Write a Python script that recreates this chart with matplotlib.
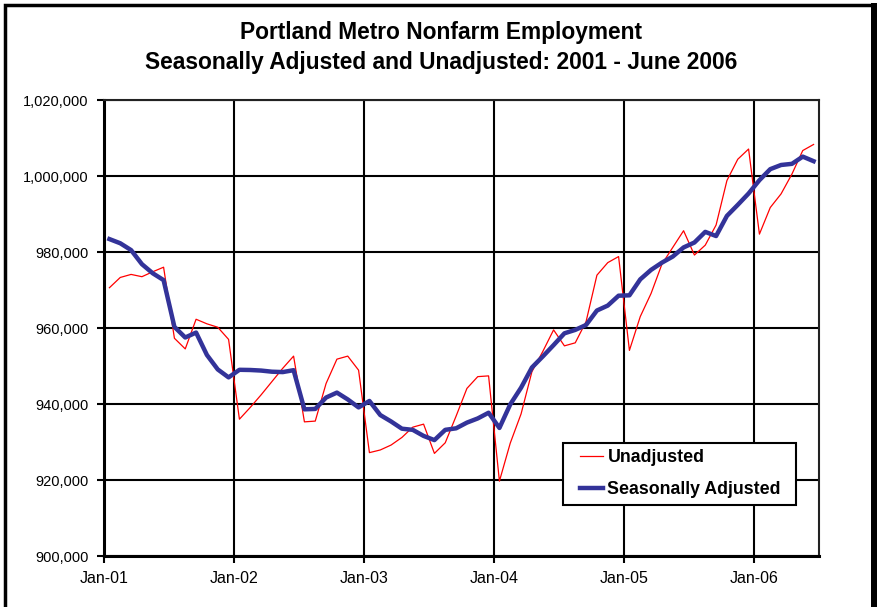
import matplotlib
matplotlib.use("Agg")
import matplotlib.pyplot as plt
import numpy as np
from matplotlib.patches import Rectangle

# monthly values, Jan 2001 - Jun 2006
unadjusted = [
    970600, 973300, 974100, 973500, 974800, 976000, 957300, 954500, 962300, 961100, 960200, 957000,
    936000, 939100, 942400, 945900, 949400, 952600, 935300, 935500, 945400, 951800, 952600, 948900,
    927200, 927900, 929200, 931200, 933900, 934700, 927000, 929800, 936800, 944100, 947200, 947400,
    919700, 929700, 937400, 948500, 953800, 959500, 955300, 956100, 961700, 973900, 977200, 978800,
    954100, 963000, 969100, 976800, 981200, 985600, 979200, 981800, 987100, 998800, 1004400, 1007100,
    984700, 991700, 995300, 1000500, 1006700, 1008300,
]
adjusted = [
    983400, 982300, 980500, 976800, 974400, 972600, 960300, 957500, 958800, 952900, 949100, 947000,
    949000, 948950, 948800, 948500, 948400, 948900, 938600, 938700, 941700, 943000, 941200, 939100,
    940800, 937100, 935400, 933500, 933200, 931600, 930500, 933200, 933600, 935100, 936200, 937700,
    933700, 939900, 944300, 949600, 952500, 955500, 958600, 959500, 960800, 964600, 965900, 968500,
    968600, 972800, 975300, 977200, 978800, 981200, 982500, 985300, 984200, 989500, 992400, 995400,
    998900, 1001800, 1002900, 1003200, 1005100, 1003900,
]
year_labels = ["Jan-01", "Jan-02", "Jan-03", "Jan-04", "Jan-05", "Jan-06"]
y_ticks = [900000, 920000, 940000, 960000, 980000, 1000000, 1020000]

plt.rcParams['font.family'] = ['Liberation Sans', 'DejaVu Sans']

fig = plt.figure(figsize=(8.77, 6.07), dpi=100)
ax = fig.add_axes([104/877, 1 - 556/607, 715/877, 456/607])

months = np.arange(len(unadjusted)) + 0.5
ax.plot(months, unadjusted, color='#FF0000', lw=0.9, label='Unadjusted', zorder=3)
ax.plot(months, adjusted, color='#333399', lw=3.2, label='Seasonally Adjusted', zorder=4)

ax.set_xlim(0, 66)
ax.set_ylim(900000, 1020000)
ax.set_xticks(np.arange(len(year_labels)) * 12)
ax.set_xticklabels(year_labels, fontsize=11.5)
ax.set_yticks(y_ticks)
ax.set_yticklabels([f"{v:,}" for v in y_ticks], fontsize=10.5)
ax.tick_params(direction='out', length=5, width=1.5, color='black', pad=6)
ax.grid(True, color='black', lw=1.5)
ax.set_axisbelow(True)
for s in ax.spines.values():
    s.set_linewidth(1.5)
    s.set_color('#222222')
ax.spines['bottom'].set_linewidth(2.2)
ax.spines['left'].set_linewidth(2.2)
ax.spines['bottom'].set_color('black')
ax.spines['left'].set_color('black')

# legend box drawn by hand, entries placed inside it
ax.add_patch(Rectangle((0.642, 0.112), 0.326, 0.136, transform=ax.transAxes, facecolor='white',
                       edgecolor='black', lw=1.5, zorder=9, clip_on=False))
leg = ax.legend(loc='center left', bbox_to_anchor=(0.6655, 0.180), borderaxespad=0,
                prop={'weight': 'bold', 'size': 12.8}, frameon=False, borderpad=0,
                handlelength=1.3, handletextpad=0.25, labelspacing=0.85)
leg.set_zorder(10)

fig.text(0.503, 1 - 33/607, "Portland Metro Nonfarm Employment", ha='center', va='center',
         fontsize=16.4, fontweight='bold')
fig.text(0.503, 1 - 62/607, "Seasonally Adjusted and Unadjusted: 2001 - June 2006", ha='center',
         va='center', fontsize=16.4, fontweight='bold')

# outer chart border
fig.add_artist(Rectangle((4.5/877, -0.05), 869/877, 1.05 - 4.5/607, transform=fig.transFigure,
                         fill=False, lw=2.5, edgecolor='black'))
fig.add_artist(Rectangle((871/877, -0.05), 6/877, 1.05 - 3/607, transform=fig.transFigure,
                         fill=True, lw=0, facecolor='black'))

fig.savefig("out.png", dpi=100)
